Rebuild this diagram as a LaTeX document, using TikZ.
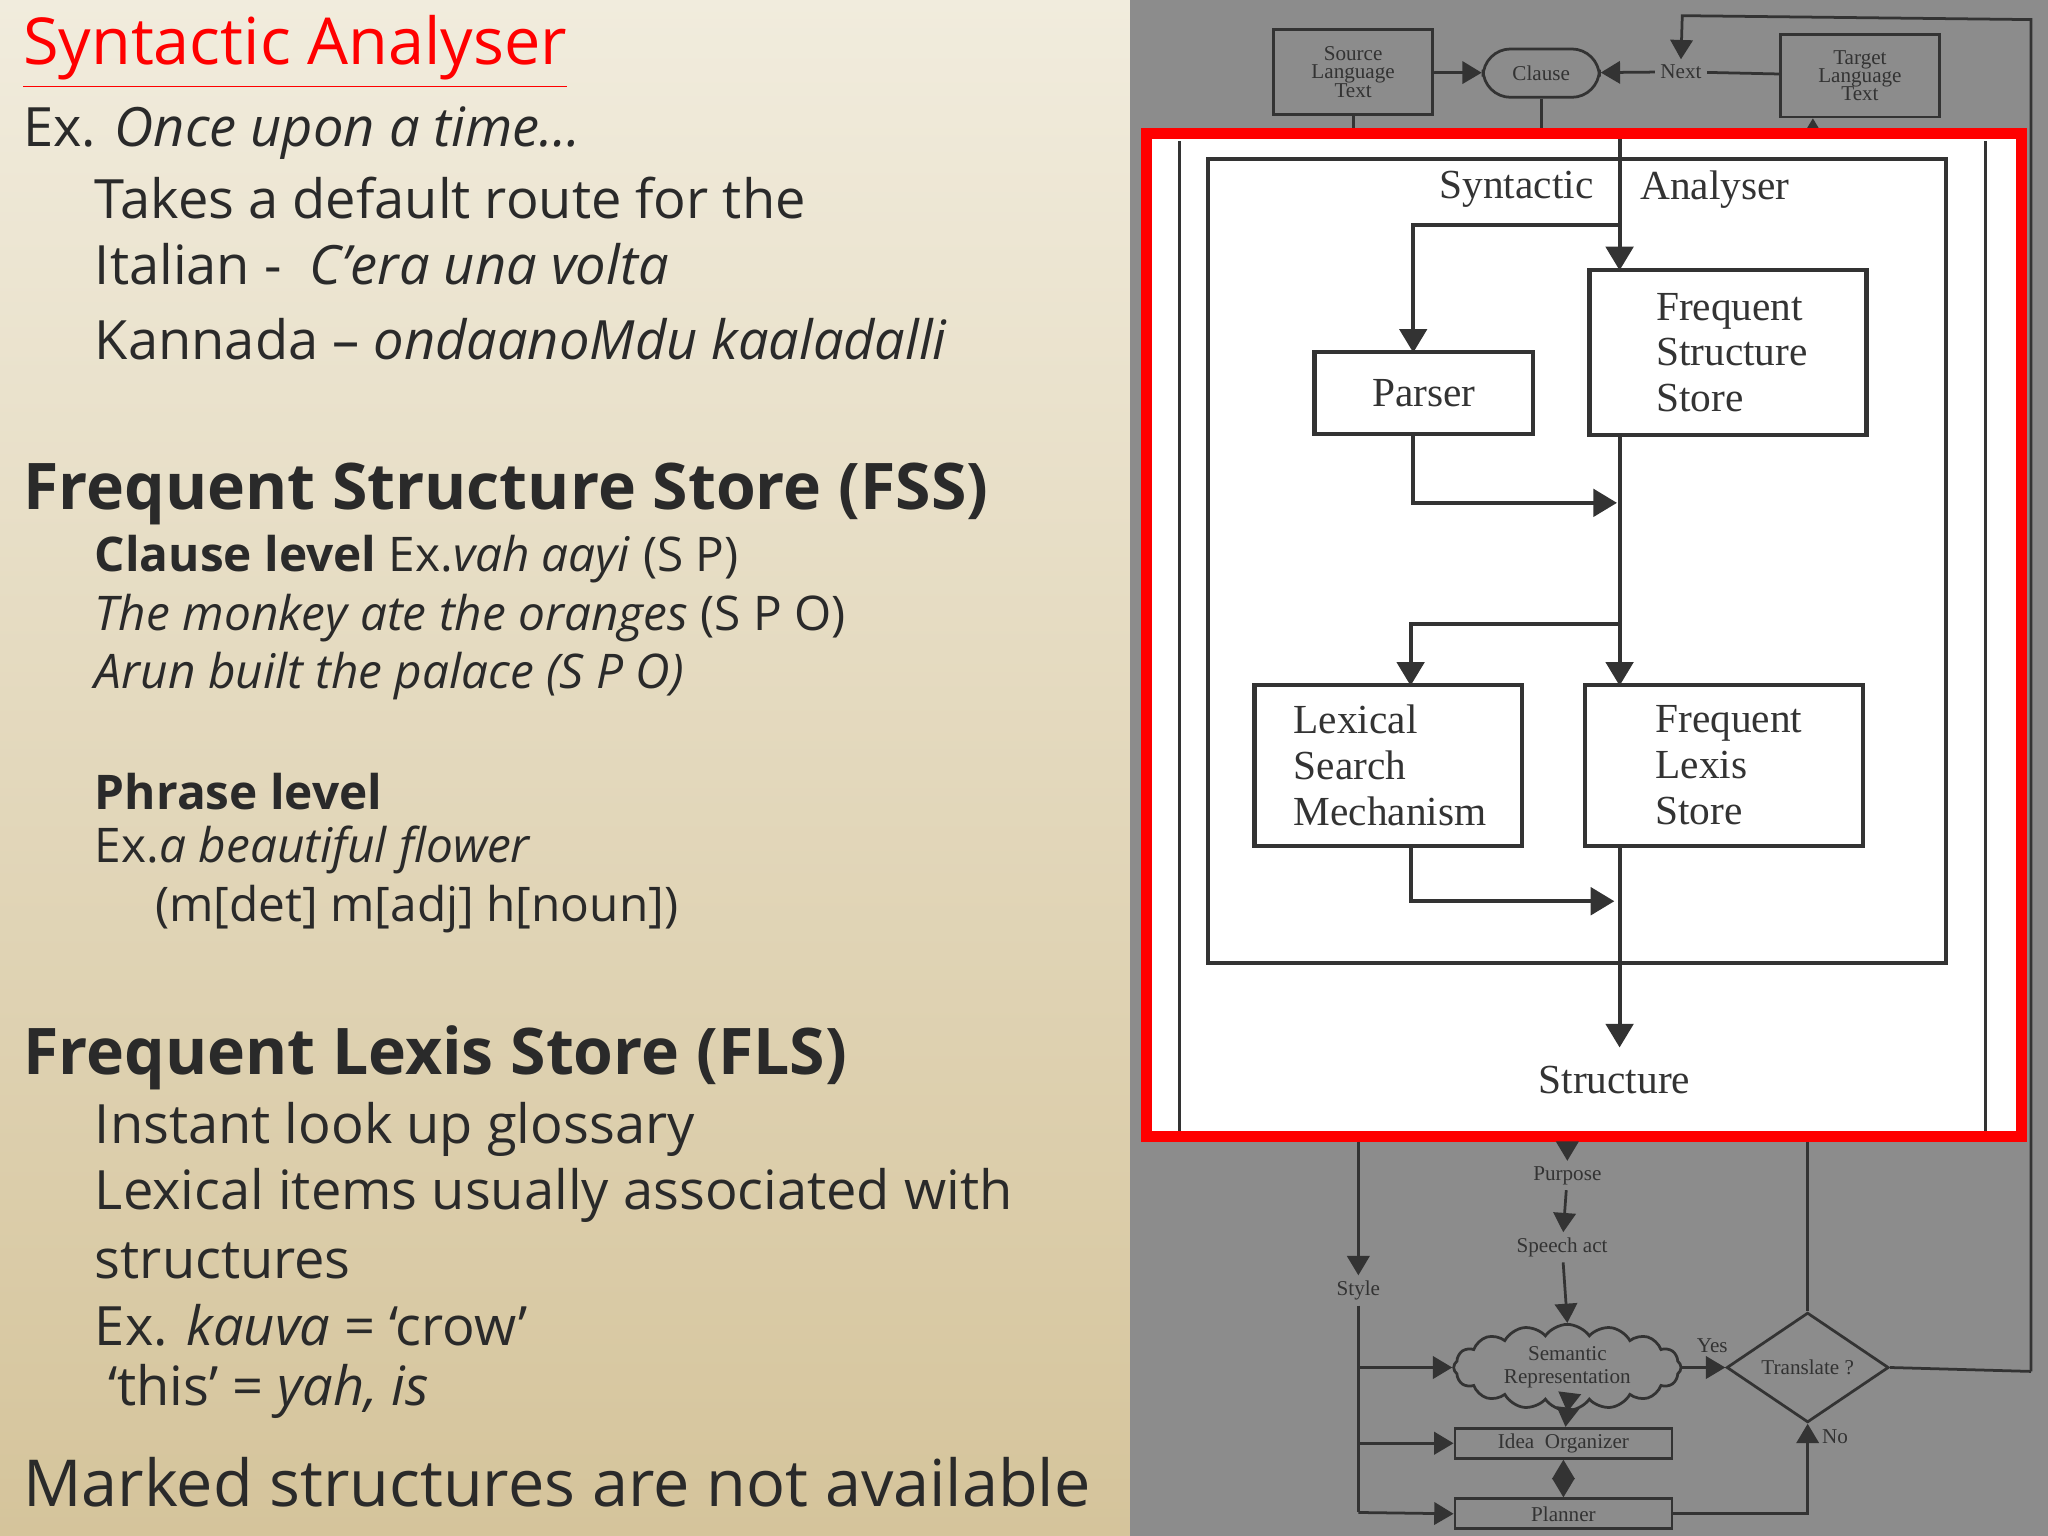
\documentclass[tikz,border=0pt]{standalone}
\usepackage{fontspec}
\setmainfont{Open Sans}
\newfontfamily\scanfont{Liberation Serif}
\usetikzlibrary{positioning, arrows.meta, shapes.geometric, shapes.symbols}
\definecolor{ink}{HTML}{2A2A2A}
\definecolor{scan}{HTML}{333333}
\definecolor{slate}{HTML}{8C8C8C}
\definecolor{paperTop}{HTML}{F1ECDD}
\definecolor{paperBot}{HTML}{D5C49B}
\begin{document}
\begin{tikzpicture}[x=0.01cm, y=-0.01cm, >=Triangle,
      txt/.style={anchor=west, inner sep=0pt, text=ink},
      body/.style={txt, font=\fontsize{11.8}{13}\selectfont},
      small/.style={txt, font=\fontsize{10.4}{12}\selectfont},
      head/.style={txt, font=\fontsize{14}{16}\selectfont\bfseries},
      box/.style={draw=scan, line width=0.9pt, align=left, text=scan, font=\scanfont\fontsize{9}{10}\selectfont},
      gbox/.style={draw=scan, line width=0.6pt, align=center, text=scan, inner sep=1pt, font=\scanfont\fontsize{4.6}{5}\selectfont},
      glab/.style={text=scan, inner sep=1pt, font=\scanfont\fontsize{4.6}{5}\selectfont},
      wire/.style={draw=scan, line width=0.9pt},
      gwire/.style={draw=scan, line width=0.6pt}]
    \useasboundingbox (0,0) rectangle (1568,1176);
    % backgrounds
    \shade[top color=paperTop, bottom color=paperBot] (0,0) rectangle (865,1176);
    \fill[slate] (865,0) rectangle (1568,1176);

    % left column
    \node[txt, text=red, font=\fontsize{14.1}{16}\selectfont] (title) at (17,40) {\underline{Syntactic Analyser}};
    \node[body] (ex) at (17,102) {Ex. \textit{Once upon a time…}};
    \node[body] (route) at (72,152) {Takes a default route for the};
    \node[body] (ital) at (72,202) {Italian -\ \ \textit{C’era una volta}};
    \node[body] (kann) at (72,260) {Kannada – \textit{ondaanoMdu kaaladalli}};
    \node[head] (fss) at (17,378) {Frequent Structure Store (FSS)};
    \node[small] (cl) at (72,428) {\textbf{Clause level} Ex.\textit{vah aayi} (S P)};
    \node[small] (mk) at (72,473) {\textit{The monkey ate the oranges} (S P O)};
    \node[small] (arun) at (72,518) {\textit{Arun built the palace (S P O)}};
    \node[small] (ph) at (72,606) {\textbf{Phrase level}};
    \node[small] (fl) at (72,651) {Ex.\textit{a beautiful flower}};
    \node[small] (det) at (118,696) {(m[det] m[adj] h[noun])};
    \node[head] (fls) at (17,810) {Frequent Lexis Store (FLS)};
    \node[body] (gl) at (72,865) {Instant look up glossary};
    \node[body] (lex) at (72,915) {Lexical items usually associated with};
    \node[body] (st) at (72,965) {structures};
    \node[body] (kv) at (72,1015) {Ex. \textit{kauva} = ‘crow’};
    \node[body] (th) at (82,1065) {‘this’ = \textit{yah, is}};
    \node[body, font=\fontsize{14.1}{16}\selectfont] (mark) at (17,1135) {Marked structures are not available};

    % gray flow chart, top
    \node[gbox, minimum width=1.22cm, minimum height=0.65cm] (src) at (1036,55) {Source\\[-1pt]Language\\[-1pt]Text};
    \node[gbox, rounded corners=6pt, minimum width=0.89cm, minimum height=0.37cm] (clause) at (1180,56) {Clause};
    \node[glab] (next) at (1287,55) {Next};
    \node[gbox, minimum width=1.22cm, minimum height=0.63cm] (tgt) at (1424,58) {Target\\[-1pt]Language\\[-1pt]Text};
    \draw[gwire, ->] (src) -- (clause);
    \draw[gwire, ->] (next) -- (clause);
    \draw[gwire] (tgt) -- (next);
    \coordinate (loopA) at (1555,15);
    \draw[gwire, ->] (1555,1050) -- (loopA) -- (1288,12) -- (next.north);
    \draw[gwire] (src.south) -- ++(0,12);
    \draw[gwire] (clause.south) -- ++(0,25);
    \draw[gwire, <-] (tgt.south -| 1388,0) -- ++(0,10);

    % white panel
    \fill[white] (876,100) rectangle (1550,872);
    \draw[scan, line width=0.6pt] (903,108) -- (903,866) (1520,108) -- (1520,866);
    \draw[wire] (925,122) rectangle (1490,737);
    \node[text=scan, font=\scanfont\fontsize{9}{10}\selectfont] (syn) at (1161,145) {Syntactic};
    \node[text=scan, font=\scanfont\fontsize{9}{10}\selectfont] (ana) at (1313,145) {Analyser};
    \node[box, minimum width=1.67cm, minimum height=0.63cm, align=center] (parser) at (1090,301) {Parser};
    \node[box, minimum width=2.12cm, minimum height=1.26cm, text width=1.1cm] (fsstore) at (1323,270) {Frequent\\Structure\\Store};
    \node[box, minimum width=2.05cm, minimum height=1.23cm, text width=1.45cm] (lsm) at (1063,586) {Lexical\\Search\\Mechanism};
    \node[box, minimum width=2.13cm, minimum height=1.23cm, text width=1.05cm] (flstore) at (1320,586) {Frequent\\Lexis\\Store};
    \node[text=scan, font=\scanfont\fontsize{9}{10}\selectfont] (struct) at (1236,827) {Structure};
    \coordinate (top) at (1240,100);
    \coordinate (sp1) at (1240,172);
    \coordinate (sp2) at (1240,478);
    \draw[wire, ->] (top) -- (1240,207);
    \draw[wire, ->] (sp1) -- (1082,172) -- (1082,270);
    \draw[wire, ->] (1082,333) -- (1082,385) -- (1238,385);
    \draw[wire, ->] (1240,333) -- (1240,525);
    \draw[wire, ->] (sp2) -- (1080,478) -- (1080,525);
    \draw[wire, ->] (1080,648) -- (1080,690) -- (1236,690);
    \draw[wire, ->] (1240,648) -- (1240,802);
    \draw[red, line width=2.4pt] (878,102) rectangle (1548,870);

    % gray flow chart, bottom
    \node[glab] (purpose) at (1200,900) {Purpose};
    \node[glab] (speech) at (1196,955) {Speech act};
    \node[glab] (style) at (1040,988) {Style};
    \node[cloud, cloud puffs=16, cloud puff arc=110, aspect=2.6, draw=scan, line width=0.6pt, text=scan, inner sep=0pt, minimum width=1.74cm, minimum height=0.66cm, align=center, font=\scanfont\fontsize{4.6}{5}\selectfont] (sem) at (1200,1047) {Semantic\\Representation};
    \node[gbox, minimum width=1.66cm, minimum height=0.23cm] (idea) at (1197,1105) {Idea\ \ Organizer};
    \node[gbox, minimum width=1.66cm, minimum height=0.23cm] (plan) at (1197,1159) {Planner};
    \node[diamond, draw=scan, line width=0.6pt, text=scan, inner sep=0pt, minimum width=1.24cm, minimum height=0.84cm, font=\scanfont\fontsize{4.6}{5}\selectfont] (trans) at (1384,1047) {Translate ?};
    \node[glab] (yes) at (1311,1030) {Yes};
    \node[glab] (no) at (1405,1100) {No};
    \draw[gwire, ->] (1200,874) -- (purpose.north);
    \draw[gwire, ->] (purpose) -- (speech);
    \draw[gwire, ->] (speech) -- (sem.north);
    \draw[gwire, ->] (1040,874) -- (style.north);
    \coordinate (stA) at (1040,1047);
    \coordinate (stB) at (1040,1105);
    \draw[gwire] (style.south) -- (1040,1158);
    \draw[gwire, ->] (stA) -- (sem.west);
    \draw[gwire, ->] (stB) -- (idea.west);
    \draw[gwire, ->] (1040,1158) -- (plan.west);
    \draw[gwire, <->] (sem.south) -- (idea);
    \draw[gwire, <->] (idea) -- (plan);
    \draw[gwire, ->] (sem.east) -- (trans.west);
    \draw[gwire] (trans.north) -- (1384,874);
    \draw[gwire] (trans.east) -- (1555,1050);
    \draw[gwire, ->] (plan.east) -| (trans.south);
  \end{tikzpicture}
\end{document}
